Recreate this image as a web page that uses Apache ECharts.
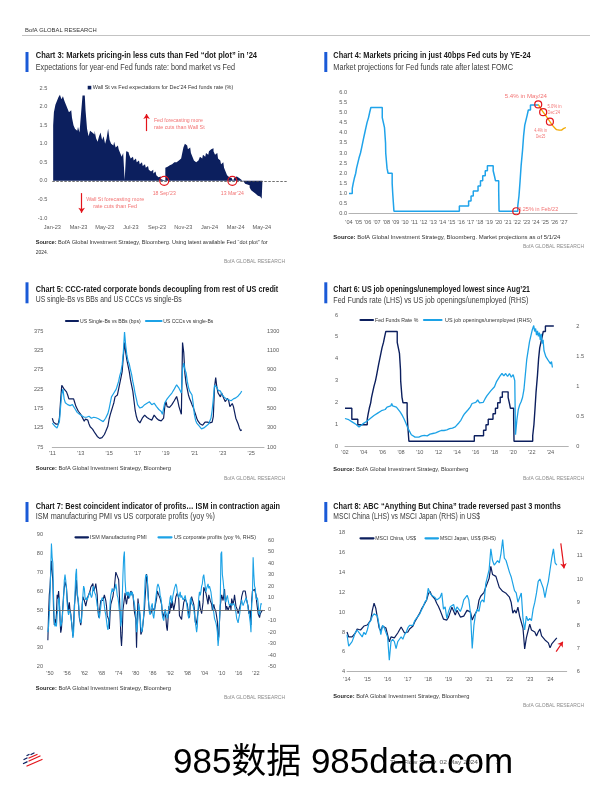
<!DOCTYPE html>
<html><head><meta charset="utf-8">
<script src="https://cdn.jsdelivr.net/npm/echarts@6/dist/echarts.min.js"></script>
<style>html,body{margin:0;padding:0;background:#fff}#c{width:612px;height:792px}</style>
</head><body><div id="c"></div>
<script>
// ---------------- DATA ----------------
// Chart 3: Wall St vs Fed expectations (Dec'24 FF rate, %), samples every 3.5 days from 3 Jan 2023
const c3Ticks = ['Jan-23','Mar-23','May-23','Jul-23','Sep-23','Nov-23','Jan-24','Mar-24','May-24'];
const c3Day0 = 2, c3StepDays = 3.5;
const c3Vals = [1.50,1.85,2.05,2.15,2.25,2.32,2.20,2.28,2.15,2.05,1.95,1.85,1.90,1.70,1.50,1.40,1.35,1.45,1.30,1.80,
2.30,2.30,1.90,1.40,1.20,1.35,1.30,1.25,1.35,1.15,1.05,1.20,1.30,1.10,1.20,1.00,1.15,1.40,1.10,1.00,
0.95,1.05,0.90,0.95,0.85,0.75,0.65,0.75,0.02,0.80,0.78,0.70,0.60,0.65,0.55,0.60,0.50,0.55,0.45,0.50,
0.40,0.45,0.35,0.40,0.30,0.25,0.30,0.20,0.25,0.15,0.10,0.12,0.05,0.02,0.01,0.35,0.38,0.42,0.40,0.45,
0.50,0.45,0.50,0.55,0.50,0.60,0.70,0.90,1.00,0.95,0.85,0.90,0.75,0.65,0.55,0.50,0.55,0.60,0.65,0.60,
0.70,0.65,0.75,0.70,0.80,0.85,0.88,0.80,0.70,0.75,0.60,0.55,0.45,0.50,0.35,0.25,0.15,0.10,0.08,0.04,
0.00,0.10,0.12,0.08,0.06,0.03,-0.02,-0.05,-0.08,-0.10,-0.12,-0.18,-0.25,-0.30,-0.35,-0.33,-0.40,-0.42,-0.45,-0.48];

// Chart 4: Fed funds (midpoint) change points and market projection
const c4FedDates = [2004.0,2004.35,2004.45,2004.57,2004.72,2004.81,2004.94,2005.07,2005.23,2005.35,2005.46,2005.57,2005.69,2005.81,2005.93,2006.09,2006.21,2006.34,
2007.56,2007.68,2007.8,2007.91,2007.93,2008.07,2008.18,2008.62,2008.68,2008.81,2015.81,2016.8,2017.06,2017.3,2017.81,2018.07,2018.31,2018.58,2018.81,
2019.43,2019.56,2019.68,2020.02,2020.06,2022.06,2022.19,2022.31,2022.42,2022.57,2022.69,2022.81,2022.94,2023.07,2023.19,2023.42,2024.25];
const c4FedVals = [1.0,1.25,1.5,1.75,2.0,2.25,2.5,2.75,3.0,3.25,3.5,3.75,4.0,4.25,4.5,4.75,5.0,5.25,
4.75,4.5,4.25,3.5,3.0,2.25,2.0,1.5,1.0,0.125,0.375,0.625,0.875,1.125,1.375,1.625,1.875,2.125,2.375,
2.125,1.875,1.625,1.125,0.125,0.375,0.875,1.625,2.375,3.125,3.875,4.375,4.625,4.875,5.125,5.375,5.375];
const c4ProjDates = [2024.25,2024.45,2024.61,2024.78,2025.0,2025.25,2025.5,2025.75,2026.0,2026.21,2026.5,2026.75,2027.0,2027.21];
const c4ProjVals = [5.40,5.33,5.13,5.02,4.88,4.72,4.55,4.38,4.25,4.15,4.13,4.13,4.22,4.26];

// Chart 5: monthly from Jan 2011
const c5Start = 2011.0;
const c5SingleB = [150,140,145,135,130,135,150,195,235,240,225,230,
218,210,200,195,200,205,200,190,180,175,168,165,
160,155,148,142,148,150,145,135,128,125,122,118,
112,108,103,100,98,97,100,105,108,115,120,130,
148,160,170,180,190,205,200,210,225,240,255,270,
310,345,320,300,285,270,250,235,220,195,170,155,
145,140,138,140,150,155,158,155,152,150,148,145,
145,150,158,155,150,148,145,140,143,145,150,180,
193,180,175,178,180,185,190,195,200,206,195,180,
175,160,345,320,265,240,225,210,200,193,185,178,
175,160,150,143,138,135,133,132,135,140,142,140,
141,138,137,140,155,230,255,230,215,210,205,215,
218,200,193,198,201,195,180,175,188,180,165,150,
145,135,125,118,120];
const c5CCC = [350,330,320,310,300,315,365,520,650,700,600,560,
550,540,520,530,537,540,520,500,480,460,450,440,
430,425,415,410,400,410,415,420,405,400,405,410,
400,405,400,395,392,380,370,365,380,400,420,450,
500,560,620,640,660,680,700,740,780,840,880,950,
1080,1290,1150,1050,990,960,900,850,780,720,650,600,
540,520,505,500,515,530,540,550,555,565,570,560,
540,550,555,540,520,500,490,480,470,440,430,560,
580,600,610,630,640,660,680,700,720,745,730,710,
700,660,900,970,900,870,780,720,680,660,640,550,
440,380,350,330,320,310,290,280,300,310,320,330,
340,360,400,480,600,740,760,720,690,700,680,650,
640,620,630,600,580,590,600,580,595,600,590,610,
620,630,640,660,680];
const c5Ticks = [2011,2013,2015,2017,2019,2021,2023,2025];

// Chart 6: Fed funds upper bound change points; job openings / unemployed
const c6FedDates = [2002.0,2002.73,2003.37,2004.38,2004.48,2004.6,2004.75,2004.84,2004.97,2005.1,2005.26,2005.38,2005.49,2005.6,2005.72,2005.84,2005.96,2006.12,2006.24,2006.37,
2007.59,2007.71,2007.83,2007.94,2007.96,2008.1,2008.21,2008.65,2008.71,2008.84,2015.84,2016.83,2017.09,2017.33,2017.84,2018.1,2018.34,2018.61,2018.84,
2019.46,2019.59,2019.71,2020.05,2020.09,2022.09,2022.22,2022.34,2022.45,2022.6,2022.72,2022.84,2022.97,2023.1,2023.22,2023.45,2024.35];
const c6FedVals = [1.75,1.25,1.0,1.25,1.5,1.75,2.0,2.25,2.5,2.75,3.0,3.25,3.5,3.75,4.0,4.25,4.5,4.75,5.0,5.25,
4.75,4.5,4.25,3.5,3.0,2.25,2.0,1.5,1.0,0.25,0.5,0.75,1.0,1.25,1.5,1.75,2.0,2.25,2.5,
2.25,2.0,1.75,1.25,0.25,0.5,1.0,1.75,2.5,3.25,4.0,4.5,4.75,5.0,5.25,5.5,5.5];
const c6JobDates = [2002.0,2002.2,2002.4,2002.6,2002.8,2003.0,2003.2,2003.4,2003.5,2003.7,2003.9,2004.1,2004.3,2004.5,2004.7,2004.9,2005.1,2005.3,2005.5,2005.7,2005.9,
2006.1,2006.3,2006.5,2006.7,2006.9,2007.0,2007.1,2007.3,2007.5,2007.7,2007.9,2008.1,2008.3,2008.5,2008.7,2008.9,2009.1,2009.3,2009.5,2009.7,2009.9,
2010.2,2010.5,2010.8,2011.1,2011.4,2011.7,2012.0,2012.3,2012.6,2012.9,2013.2,2013.5,2013.8,2014.0,2014.2,2014.4,2014.6,2014.8,2015.0,2015.2,2015.4,2015.6,2015.8,
2016.0,2016.2,2016.4,2016.6,2016.8,2017.0,2017.2,2017.4,2017.6,2017.8,2018.0,2018.2,2018.4,2018.6,2018.8,2019.0,2019.2,2019.4,2019.6,2019.8,2020.0,2020.1,2020.17,
2020.25,2020.4,2020.55,2020.7,2020.85,2021.0,2021.15,2021.3,2021.45,2021.6,2021.75,2021.9,2022.05,2022.2,2022.3,2022.4,2022.5,2022.6,2022.7,2022.8,2022.9,
2023.0,2023.1,2023.2,2023.3,2023.4,2023.5,2023.6,2023.7,2023.8,2023.9,2024.0,2024.1,2024.2];
const c6JobVals = [0.47,0.44,0.45,0.42,0.41,0.40,0.37,0.35,0.33,0.36,0.38,0.40,0.42,0.45,0.47,0.50,0.52,0.55,0.56,0.59,0.60,
0.63,0.62,0.66,0.65,0.68,0.72,0.68,0.70,0.66,0.63,0.58,0.53,0.47,0.40,0.32,0.26,0.20,0.17,0.16,0.15,0.16,
0.18,0.19,0.18,0.21,0.22,0.23,0.25,0.27,0.27,0.28,0.30,0.31,0.33,0.35,0.40,0.44,0.50,0.55,0.57,0.62,0.66,0.72,0.70,
0.74,0.78,0.73,0.76,0.74,0.80,0.85,0.88,0.93,0.95,1.00,1.08,1.13,1.18,1.22,1.18,1.22,1.17,1.22,1.16,1.20,1.17,1.10,
0.20,0.45,0.62,0.70,0.75,0.82,0.95,1.20,1.45,1.60,1.75,1.85,1.95,2.02,1.92,1.97,1.86,1.93,1.84,1.90,1.78,
1.88,1.72,1.78,1.60,1.62,1.50,1.48,1.45,1.42,1.44,1.38,1.42,1.32];
const c6Ticks = [2002,2004,2006,2008,2010,2012,2014,2016,2018,2020,2022,2024];

// Chart 7: quarterly from 1949 Q2
const c7Start = 1949.25, c7Step = 0.25;
const c7ISM = [34,48,58,
62,70,76,77, 65,50,42,45, 43,48,58,56, 60,55,45,38, 40,46,52,58, 62,65,64,62, 56,52,50,54, 50,48,44,40, 36,42,52,56, 62,66,58,56,
52,46,44,42, 45,53,57,56, 55,54,52,54, 55,57,57,58, 60,62,62,63, 64,60,61,62, 64,61,58,50, 46,47,52,55, 54,55,55,56, 58,57,55,52,
47,46,45,40, 48,53,52,54, 57,60,62,66, 70,71,68,67, 66,58,48,36, 31,38,50,53, 56,59,55,53, 56,58,56,57, 56,60,59,60, 58,54,49,47,
45,30,45,56, 52,50,45,37, 37,39,38,40, 50,57,62,69, 66,60,53,50, 49,48,48,51, 51,50,50,52, 53,56,60,60, 58,58,56,56, 53,49,46,47,
49,49,46,41, 39,45,52,48, 50,54,51,55, 54,50,50,54, 57,58,59,58, 56,47,48,46, 45,49,51,54, 53,56,57,55, 53,50,48,46, 52,55,57,57,
56,53,50,44, 42,42,46,45, 52,55,51,50, 48,47,54,62, 62,61,59,57, 56,53,58,57, 55,54,53,50, 50,53,51,50, 49,49,44,34, 36,44,52,55,
58,59,55,58, 61,55,50,52, 53,50,50,51, 53,50,56,57, 53,55,58,55, 52,53,50,48, 49,51,50,54, 57,57,60,59, 60,60,60,55, 54,52,48,47,
50,42,55,60, 61,61,61,60, 58,54,51,48, 47,46,48,47, 49,50];
const c7Profits = [-20,-15,-5,
10,35,57,45, 40,10,-10,-15, -12,-15,-5,0, 10,8,-5,-15, -15,-10,0,10, 25,30,25,18, 5,-2,-5,0, 0,-5,-10,-15, -25,-20,-5,15, 30,35,15,10,
5,-5,-10,-12, -10,0,12,20, 18,10,8,10, 8,10,12,12, 15,12,10,12, 18,20,15,14, 12,8,3,0, -5,-8,-3,2, 8,10,10,8, 3,-2,-5,-10,
-15,-18,-12,-8, 5,12,15,18, 15,16,15,18, 22,18,12,10, 5,-2,0,-15, -10,10,30,45, 50,25,15,12, 15,12,15,10, 12,15,12,15, 12,8,5,0,
-5,-20,-15,-8, 5,0,-5,-15, -20,-18,-12,-5, 10,25,30,30, 28,12,5,-3, -5,0,3,5, -5,-8,-3,5, 10,15,20,22, 20,18,12,10, 5,-5,-8,-10,
-5,0,-3,-5, -8,-5,0,5, 10,12,5,8, 12,15,18,20, 22,20,15,12, 10,12,15,10, 12,10,8,8, 10,12,8,5, 0,-5,-8,-5, 8,10,5,5,
3,0,-5,-10, -15,-20,-15,0, 10,15,12,15, 20,22,28,30, 25,20,15,18, 20,22,18,20, 20,15,10,5, 0,-3,-8,-10, -12,-15,-20,-32, -25,-10,5,48,
50,30,25,18, 10,8,6,10, 12,8,5,3, 4,5,3,2, 2,5,3,0, -3,-8,-10,-12, -8,-5,0,5, 8,5,3,5, 5,8,10,8, 5,0,-2,-3,
-12,-20,5,10, 45,30,20,18, 10,8,10,5, -3,-5,0,5, 4];
const c7Ticks = [1950,1956,1962,1968,1974,1980,1986,1992,1998,2004,2010,2016,2022];

// Chart 8: monthly from Jan 2014
const c8Start = 2014.0;
const c8China = [8.0,7.5,7.4,7.5,7.6,7.9,8.3,8.5,8.2,8.4,8.6,8.5,
8.7,8.9,9.2,10.2,10.9,10.4,9.4,8.4,8.1,8.6,8.5,8.4,
7.7,7.0,7.5,7.6,7.4,7.6,7.9,8.2,8.5,8.3,7.9,7.7,
8.0,8.3,8.5,8.6,9.0,9.2,9.6,9.9,10.3,10.6,10.9,11.2,
11.8,12.1,11.7,11.6,11.3,10.9,10.6,10.2,10.1,9.3,9.5,9.2,
9.5,10.0,10.5,10.6,9.7,10.2,10.1,9.5,9.5,9.6,9.8,10.2,
10.4,10.0,9.2,9.6,9.6,10.2,11.2,11.6,11.5,12.0,12.5,12.7,
13.4,14.6,13.8,14.0,13.6,13.5,12.5,12.4,12.1,12.2,11.9,11.7,
11.5,11.0,9.9,10.2,9.9,10.5,9.6,9.5,8.4,6.3,7.4,8.1,
8.8,8.2,8.3,8.0,7.6,8.0,8.3,7.6,7.5,7.2,7.3,6.9,
6.4,6.8,6.9,7.2,7.4];
const c8Japan = [7.6,7.1,7.2,7.3,7.5,7.7,7.8,7.7,7.7,7.5,7.7,7.6,
7.8,8.1,8.2,8.4,8.5,8.5,8.4,8.0,7.6,8.0,7.9,7.9,
7.5,6.5,7.3,7.4,7.3,7.0,7.3,7.4,7.5,7.4,7.6,7.7,
7.9,8.0,8.0,8.0,8.2,8.3,8.4,8.5,8.5,8.8,9.0,9.1,
9.6,9.4,9.3,9.3,9.2,9.1,9.1,9.2,9.4,8.7,8.8,8.3,
8.6,8.8,8.8,8.9,8.6,8.8,8.8,8.6,8.8,9.1,9.2,9.3,
9.1,8.5,7.0,8.0,8.5,8.7,8.6,9.0,9.1,9.0,9.8,10.1,
10.4,11.3,10.8,10.6,10.7,10.8,10.7,11.1,11.7,10.9,10.8,10.8,
10.3,10.1,10.1,9.5,9.4,9.0,9.2,9.4,8.3,7.8,8.4,8.2,
8.3,8.2,8.7,9.0,9.4,9.9,10.0,9.8,9.6,9.2,9.6,9.9,
10.4,10.9,11.3,10.7,10.6];
const c8Ticks = [2014,2015,2016,2017,2018,2019,2020,2021,2022,2023,2024];

// ---------------- STYLE ----------------
const NAVY='#0C1F5E', LBLUE='#1CA2E6', RED='#E3141B', PINK='#F27272', BAR='#1A5AD7';
const BASE="'Liberation Sans', Arial, Helvetica, sans-serif";
const mctx=document.createElement('canvas').getContext('2d');
function tw(s,size,weight,fam){mctx.font=weight+' '+size+'px '+fam;return mctx.measureText(s).width;}
function has(f){mctx.font='20px monospace';const a=mctx.measureText('mmmmmlllllWWWii').width;mctx.font='20px "'+f+'", monospace';return Math.abs(mctx.measureText('mmmmmlllllWWWii').width-a)>0.5;}
const NARROW=has('Liberation Sans Narrow');
const AXFAM=NARROW?"'Liberation Sans Narrow', 'Liberation Sans', sans-serif":BASE;
const AXSIZE=NARROW?6.6:5.6;
const yy=v=>"'"+String(Math.round(v)%100).padStart(2,'0');

const G=[];
function T(s,x,y,w,o){o=o||{};const size=o.size||6,weight=o.weight||'normal',fam=o.fam||BASE,align=o.align||'left';
  const m=tw(s,size,weight,fam);const sc=w?w/m:1;
  G.push({type:'text',x:x,y:y,scaleX:sc,scaleY:1,silent:true,z:100,
    style:{text:s,x:0,y:0,fontSize:size,fontWeight:weight,fontFamily:fam,fill:o.color||'#333',align:align,verticalAlign:'middle',textAlign:align,textVerticalAlign:'middle'}});}
function block(bx,by,bh,tx,ty,tW,title,sy,sW,sub){
  G.push({type:'rect',shape:{x:bx,y:by,width:3,height:bh},style:{fill:BAR},silent:true});
  T(title,tx,ty,tW,{size:9.3,weight:'bold',color:'#1a1a1a'});
  T(sub,tx,sy,sW,{size:9,color:'#3c3c3c'});}
function source(x,y,w,rest){const a='Source: ';const wa=tw(a,6.2,'bold',BASE),wb=tw(rest,6.2,'normal',BASE);const sc=w/(wa+wb);
  T(a,x,y,wa*sc,{size:6.2,weight:'bold',color:'#222'});T(rest,x+wa*sc,y,wb*sc,{size:6.2,color:'#333'});}
function bofa(xr,y){T('BofA GLOBAL RESEARCH',xr,y,61,{size:6,color:'#8a8a8a',align:'right'});}
function legLine(x1,x2,y,c){G.push({type:'line',shape:{x1:x1,y1:y,x2:x2,y2:y},style:{stroke:c,lineWidth:2.2,lineCap:'round'},silent:true});}

// header
T('BofA GLOBAL RESEARCH',25,30.7,71.7,{size:6,color:'#333'});
G.push({type:'line',shape:{x1:22,y1:35.5,x2:590,y2:35.5},style:{stroke:'#9a9a9a',lineWidth:0.6},silent:true});

// titles
block(25.5,52,20,35.7,55.5,221.3,"Chart 3: Markets pricing-in less cuts than Fed \u201cdot plot\u201d in \u201924",67.3,199.3,'Expectations for year-end Fed funds rate: bond market vs Fed');
block(324.3,52,20,333.3,55.5,197.4,'Chart 4: Markets pricing in just 40bps Fed cuts by YE-24',67.3,179.7,'Market projections for Fed funds rate after latest FOMC');
block(25.5,282.3,21,35.7,289.2,242.6,'Chart 5: CCC-rated corporate bonds decoupling from rest of US credit',300,146,'US single-Bs vs BBs and US CCCs vs single-Bs');
block(324.3,282.3,21,333.3,289.7,196.7,'Chart 6: US job openings/unemployed lowest since Aug\u201921',300.3,195,'Fed Funds rate (LHS) vs US job openings/unemployed (RHS)');
block(25.5,502,20,35.7,506.2,244.3,'Chart 7: Best coincident indicator of profits\u2026 ISM in contraction again',517,179.3,'ISM manufacturing PMI vs US corporate profits (yoy %)');
block(324.3,502,20,333.3,506.7,227.4,'Chart 8: ABC \u201cAnything But China\u201d trade reversed past 3 months',516.7,146.7,'MSCI China (LHS) vs MSCI Japan (RHS) in US$');

// sources
source(35.7,242.7,232,'BofA Global Investment Strategy, Bloomberg. Using latest available Fed \u201cdot plot\u201d for');
T('2024.',35.7,252,12.5,{size:6.2,color:'#333'});
bofa(285,261);
source(333.3,237.7,227,'BofA Global Investment Strategy, Bloomberg. Market projections as of 5/1/24');
bofa(584,246.7);
source(35.7,468.3,135.3,'BofA Global Investment Strategy, Bloomberg'); bofa(285,478);
source(333.3,469.3,135,'BofA Global Investment Strategy, Bloomberg'); bofa(584,478);
source(35.7,688.3,135.3,'BofA Global Investment Strategy, Bloomberg'); bofa(285,697.3);
source(333.3,696.7,136,'BofA Global Investment Strategy, Bloomberg'); bofa(584,705.7);

// legends
G.push({type:'rect',shape:{x:87.7,y:85.8,width:3.6,height:3.6},style:{fill:NAVY},silent:true});
T("Wall St vs Fed expectations for Dec\u201924 Fed funds rate (%)",92.7,87.7,140.6,{size:6,color:'#333'});
legLine(66,78,321,NAVY); T('US Single-Bs vs BBs (bps)',80,321,60.7,{size:6});
legLine(146,161.5,321,LBLUE); T('US CCCs vs single-Bs',163.3,321,50,{size:6});
legLine(360.5,373,320,NAVY); T('Fed Funds Rate %',375,320,43.3,{size:6});
legLine(424,441.5,320,LBLUE); T('US job openings/unemployed (RHS)',445,320,86.7,{size:6});
legLine(75.5,88,537.3,NAVY); T('ISM Manufacturing PMI',90,537.3,56.7,{size:6});
legLine(158.5,171.5,537.3,LBLUE); T('US corporate profits (yoy %, RHS)',174,537.3,82,{size:6});
legLine(360.5,373.5,538.3,NAVY); T('MSCI China, US$',375.3,538.3,40.7,{size:6});
legLine(425.5,438,538.3,LBLUE); T('MSCI Japan, US$ (RHS)',440,538.3,56,{size:6});

// footer
(function(){
  const st=(x1,y1,x2,y2,c)=>G.push({type:'line',shape:{x1,y1,x2,y2},style:{stroke:c,lineWidth:1.3,lineCap:'round'},silent:true});
  st(27,755.5,29,754.5,NAVY); st(31,754.5,34,753,NAVY);
  st(24,759.5,27,758,NAVY); st(29,758,37,754.5,RED);
  st(23.5,763.5,27,761.8,NAVY); st(29,761,40,756,RED);
  st(27,766,42,759.5,RED);
})();
T('The Flow Show  02 May 2024',390,762.5,88,{size:6.2,color:'#555'});
T('3',496,762.5,null,{size:6.2,color:'#555'});
T('985\u6570\u636e 985data.com',173,763.5,340,{size:35,color:'#000',fam:"'Liberation Sans','Noto Sans CJK SC',sans-serif"});

// ---------------- CHART ----------------
function grid(l,t,r,b){return {left:l,top:t,width:r-l,height:b-t,containLabel:false,outerBoundsMode:'none'};}
const lab=o=>Object.assign({fontSize:AXSIZE,fontFamily:AXFAM,color:'#5a5a5a'},o);
function xAx(gi,min,max,vals,fmt,margin,line){return {type:'value',gridIndex:gi,min:min,max:max,splitLine:{show:false},axisTick:{show:false},
  axisLine:{show:!!line,onZero:false,lineStyle:{color:'#a0a0a0',width:0.8}},axisLabel:lab({customValues:vals,formatter:fmt,margin:margin})};}
function yAx(gi,min,max,vals,fmt,pos,margin,interval){const a={type:'value',gridIndex:gi,min:min,max:max,position:pos,splitLine:{show:false},axisTick:{show:false},
  axisLine:{show:false},axisLabel:lab({formatter:fmt,margin:margin})};
  if(interval){a.interval=interval;} else {a.axisLabel.customValues=vals;}
  return a;}
const seq=(a,b,s)=>{const r=[];for(let v=a;v<=b+1e-9;v+=s)r.push(+v.toFixed(4));return r;};
const circ=(size)=>({symbol:'circle',symbolSize:size,itemStyle:{color:'rgba(0,0,0,0)',borderColor:RED,borderWidth:1.2},label:{show:false},silent:true});
const arrow=(p1,p2)=>[{coord:p1,symbol:'none',lineStyle:{color:RED,width:1.2,type:'solid'},itemStyle:{color:RED}},{coord:p2,symbol:'arrow',symbolSize:5,lineStyle:{color:RED,width:1.2,type:'solid'},itemStyle:{color:RED}}];
const line=(xi,yi,data,color,w,extra)=>Object.assign({type:'line',xAxisIndex:xi,yAxisIndex:yi,data:data,showSymbol:false,symbol:'none',lineStyle:{color:color,width:w},itemStyle:{color:color},silent:true},extra||{});

const option={
  animation:false,
  grid:[grid(52.3,88,286.7,218),grid(349,92.3,577,213.7),grid(52.3,331,264,447.3),grid(345,315,568.3,446.7),grid(48,534.3,265,666.7),grid(347,532.7,566.7,671.7)],
  xAxis:[
    xAx(0,0,17.9,seq(0,16,2),v=>c3Ticks[Math.round(v/2)],6,false),
    xAx(1,2004,2028.4,seq(2004,2027,1),yy,6,true),
    xAx(2,2011,2025.9,c5Ticks,yy,3.5,true),
    xAx(3,2002,2025.9,c6Ticks,yy,3,true),
    xAx(4,1949.3,2025.15,c7Ticks,yy,4,false),
    xAx(5,2014,2024.82,c8Ticks,yy,4.5,true)
  ],
  yAxis:[
    yAx(0,-1,2.5,null,v=>v.toFixed(1),'left',5,0.5),
    yAx(1,0,6,null,v=>v.toFixed(1),'left',2,0.5),
    yAx(2,75,375,seq(75,375,50),v=>String(v),'left',9,null),
    yAx(2,100,1300,seq(100,1300,200),v=>String(v),'right',3,null),
    yAx(3,0,6,null,v=>String(v),'left',7,1),
    yAx(3,0,2.195,[0,0.5,1,1.5,2],v=>String(v),'right',8,null),
    yAx(4,20,90,null,v=>String(v),'left',5,10),
    yAx(4,-50,65,seq(-50,60,10),v=>String(v),'right',3,null),
    yAx(5,4,18,null,v=>String(v),'left',2,2),
    yAx(5,6,12,null,v=>String(v),'right',10,1)
  ],
  series:[
    {type:'line',step:'middle',xAxisIndex:0,yAxisIndex:0,symbol:'none',showSymbol:false,silent:true,
      lineStyle:{width:0,color:NAVY},areaStyle:{color:NAVY,opacity:1},itemStyle:{color:NAVY},
      data:c3Vals.map((v,i)=>[(c3Day0+i*c3StepDays)/30.44,v]),
      markLine:{silent:true,symbol:['none','none'],label:{show:false},data:[
        {yAxis:0,lineStyle:{color:'#4a4a4a',type:[2.5,1.5],width:0.8}},
        arrow([7.2,1.34],[7.2,1.8]),
        arrow([2.24,-0.33],[2.24,-0.86])]},
      markPoint:Object.assign(circ(9),{data:[{coord:[8.55,0]},{coord:[13.75,0]}]})},
    line(1,1,c4FedDates.map((d,i)=>[d,c4FedVals[i]]),'#1FA3EA',1.5,{step:'end',
      markPoint:Object.assign(circ(7),{data:[{coord:[2021.9,0.12]}]})}),
    line(1,1,c4ProjDates.map((d,i)=>[d,c4ProjVals[i]]),'#F2A900',1.3,{
      markPoint:Object.assign(circ(7),{data:[{coord:[2024.25,5.4]},{coord:[2024.78,5.02]},{coord:[2025.5,4.55]}]})}),
    line(2,2,c5SingleB.map((v,i)=>[c5Start+i/12,v]),NAVY,1.2),
    line(2,3,c5CCC.map((v,i)=>[c5Start+i/12,v]),LBLUE,1.2),
    line(3,4,c6FedDates.map((d,i)=>[d,c6FedVals[i]]),NAVY,1.4,{step:'end'}),
    line(3,5,c6JobDates.map((d,i)=>[d,c6JobVals[i]]),LBLUE,1.3),
    line(4,6,c7ISM.map((v,i)=>[c7Start+i*c7Step,v]),NAVY,1.1,{
      markLine:{silent:true,symbol:['none','none'],label:{show:false},data:[{yAxis:50,lineStyle:{color:'#666',width:0.9,type:'solid'}}]}}),
    line(4,7,c7Profits.map((v,i)=>[c7Start+i*c7Step,v]),LBLUE,1.1),
    line(5,8,c8China.map((v,i)=>[c8Start+i/12,v]),NAVY,1.2,{
      markLine:{silent:true,symbol:['none','none'],label:{show:false},data:[arrow([2024.3,6.02],[2024.63,7.02])]}}),
    line(5,9,c8Japan.map((v,i)=>[c8Start+i/12,v]),LBLUE,1.2,{
      markLine:{silent:true,symbol:['none','none'],label:{show:false},data:[arrow([2024.53,11.54],[2024.69,10.46])]}})
  ]
};
const chart=echarts.init(document.getElementById('c'),null,{renderer:'canvas'});
chart.setOption(option);

// annotations placed in data space
const P=(xi,yi,pt)=>chart.convertToPixel({xAxisIndex:xi,yAxisIndex:yi},pt);
function A(xi,yi,pt,s,w,align){const p=P(xi,yi,pt);const x=align==='center'?p[0]-w/2:p[0];T(s,x,p[1],w,{size:6,color:PINK});}
A(0,0,[8.55,-0.33],"18 Sep\u201923",23,'center');
A(0,0,[13.75,-0.33],"13 Mar\u201924",23,'center');
A(0,0,[7.76,1.64],'Fed forecasting more',49,'left');
A(0,0,[7.76,1.45],'rate cuts than Wall St',50.7,'left');
A(0,0,[4.8,-0.5],'Wall St forecasting more',58,'center');
A(0,0,[4.8,-0.69],'rate cuts than Fed',44,'center');
A(1,1,[2022.93,5.78],'5.4% in May/24',42.3,'center');
A(1,1,[2025.25,5.29],'5.0% in',14,'left');
A(1,1,[2025.25,4.99],"Dec\u201924",12.3,'left');
A(1,1,[2024.5,4.14],'4.4% in',12.7,'center');
A(1,1,[2024.5,3.81],'Dec25',9.3,'center');
A(1,1,[2022.11,0.2],'0.25% in Feb/22',40,'left');
chart.setOption({graphic:{elements:G}});
</script></body></html>
